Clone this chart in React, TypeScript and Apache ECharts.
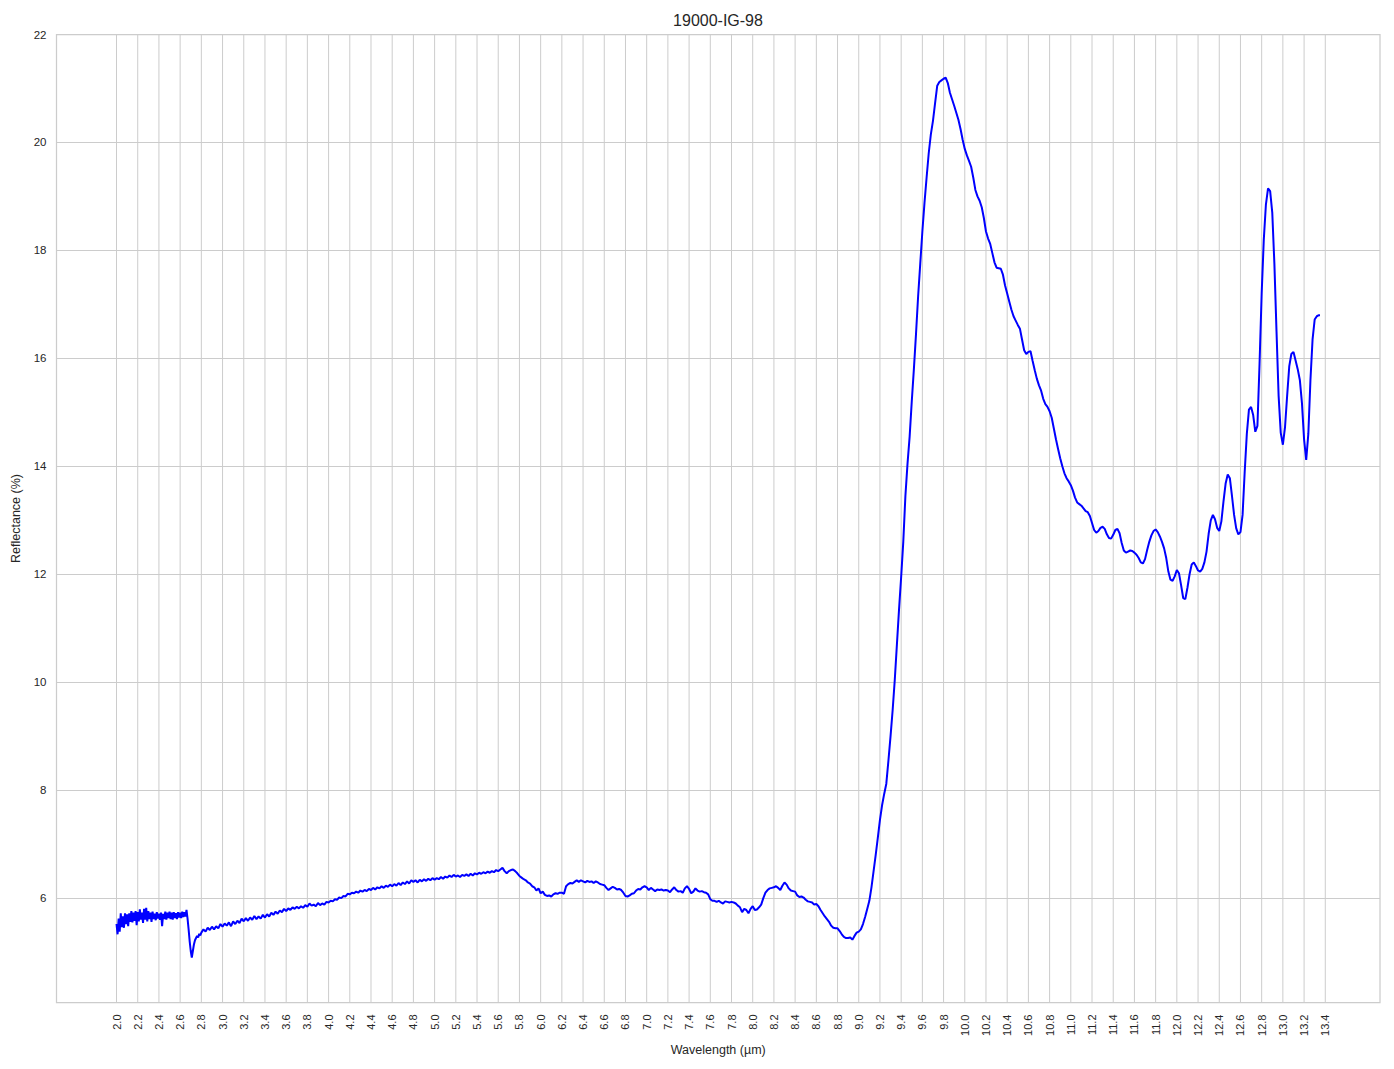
import React, { useEffect, useRef } from "react";
import * as echarts from "echarts";

// ---- Data (wavelength µm, reflectance %) ----
const noisySegment: [number, number][] = [
  [2.00,5.52],[2.01,5.33],[2.02,5.62],[2.03,5.38],[2.04,5.72],[2.05,5.46],[2.06,5.66],[2.07,5.45],[2.08,5.72],[2.09,5.52],
  [2.10,5.70],[2.11,5.48],[2.12,5.72],[2.13,5.56],[2.14,5.76],[2.15,5.55],[2.16,5.73],[2.17,5.58],[2.18,5.76],[2.19,5.50],
  [2.20,5.74],[2.21,5.57],[2.22,5.79],[2.23,5.60],[2.24,5.73],[2.25,5.54],[2.26,5.80],[2.27,5.60],[2.28,5.82],[2.29,5.57],
  [2.30,5.76],[2.31,5.61],[2.32,5.73],[2.33,5.56],[2.34,5.75],[2.35,5.61],[2.36,5.71],[2.37,5.59],[2.38,5.74],[2.39,5.62],
  [2.40,5.71],[2.41,5.60],[2.42,5.73],[2.43,5.48],[2.44,5.71],[2.45,5.61],[2.46,5.75],[2.47,5.60],[2.48,5.73],[2.49,5.63],
  [2.50,5.75],[2.51,5.61],[2.52,5.73],[2.53,5.60],[2.54,5.74],[2.55,5.63],[2.56,5.72],[2.57,5.61],[2.58,5.74],[2.59,5.64],
  [2.60,5.73],[2.61,5.63],[2.62,5.75],[2.63,5.65],[2.64,5.74],[2.65,5.66],[2.66,5.78],[2.67,5.62],[2.68,5.42],[2.69,5.20],
  [2.70,5.02],[2.71,4.90],[2.72,5.02],[2.73,5.14],[2.74,5.22],[2.75,5.26],[2.76,5.30],[2.77,5.27],[2.78,5.34],[2.79,5.31],
];

const risingSegment: [number, number][] = [
  [2.80,5.36],[2.82,5.42],[2.84,5.38],[2.86,5.45],[2.88,5.41],[2.90,5.47],[2.92,5.42],[2.94,5.48],[2.96,5.44],[2.98,5.52],
  [3.00,5.47],[3.02,5.53],[3.04,5.49],[3.06,5.55],[3.08,5.48],[3.10,5.57],[3.12,5.52],[3.14,5.58],[3.16,5.54],[3.18,5.62],
  [3.20,5.57],[3.22,5.63],[3.24,5.58],[3.26,5.64],[3.28,5.60],[3.30,5.67],[3.32,5.61],[3.34,5.66],[3.36,5.62],[3.38,5.69],
  [3.40,5.64],[3.42,5.70],[3.44,5.66],[3.46,5.73],[3.48,5.69],[3.50,5.75],[3.52,5.71],[3.54,5.77],[3.56,5.74],[3.58,5.80],
  [3.60,5.76],[3.62,5.81],[3.64,5.78],[3.66,5.83],[3.68,5.80],[3.70,5.84],[3.72,5.81],[3.74,5.85],[3.76,5.82],[3.78,5.87],
  [3.80,5.84],[3.82,5.90],[3.84,5.86],[3.86,5.88],[3.88,5.85],[3.90,5.91],[3.92,5.87],[3.94,5.90],[3.96,5.88],[3.98,5.93],
  [4.00,5.92],[4.02,5.95],[4.04,5.94],[4.06,5.98],[4.08,5.97],[4.10,6.01],[4.12,6.00],[4.14,6.04],[4.16,6.03],[4.18,6.08],
  [4.20,6.07],[4.22,6.10],[4.24,6.09],[4.26,6.12],[4.28,6.10],[4.30,6.14],[4.32,6.12],[4.34,6.15],[4.36,6.13],[4.38,6.17],
  [4.40,6.15],[4.42,6.19],[4.44,6.16],[4.46,6.20],[4.48,6.18],[4.50,6.22],[4.52,6.19],[4.54,6.23],[4.56,6.21],[4.58,6.25],
  [4.60,6.22],[4.62,6.26],[4.64,6.23],[4.66,6.28],[4.68,6.24],[4.70,6.29],[4.72,6.26],[4.74,6.31],[4.76,6.27],[4.78,6.33],
  [4.80,6.30],[4.82,6.33],[4.84,6.29],[4.86,6.34],[4.88,6.31],[4.90,6.35],[4.92,6.32],[4.94,6.36],[4.96,6.33],[4.98,6.37],
  [5.00,6.34],[5.02,6.37],[5.04,6.35],[5.06,6.39],[5.08,6.36],[5.10,6.40],[5.12,6.38],[5.14,6.42],[5.16,6.39],[5.18,6.43],
  [5.20,6.40],[5.22,6.42],[5.24,6.39],[5.26,6.43],[5.28,6.41],[5.30,6.44],[5.32,6.41],[5.34,6.45],[5.36,6.42],[5.38,6.46],
  [5.40,6.44],[5.42,6.47],[5.44,6.45],[5.46,6.48],[5.48,6.46],[5.50,6.49],[5.52,6.47],[5.54,6.50],[5.56,6.48],[5.58,6.52],
  [5.60,6.50],[5.62,6.53],[5.64,6.56],[5.66,6.50],[5.68,6.46],[5.70,6.50],[5.72,6.52],[5.74,6.53],[5.76,6.50],[5.78,6.46],
];

const plateauSegment: [number, number][] = [
  [5.80,6.41],[5.82,6.38],[5.84,6.35],[5.86,6.33],[5.88,6.29],[5.90,6.27],[5.92,6.22],[5.94,6.20],[5.96,6.14],[5.98,6.18],
  [6.00,6.09],[6.02,6.12],[6.04,6.06],[6.06,6.04],[6.08,6.05],[6.10,6.03],[6.12,6.07],[6.14,6.09],[6.16,6.08],[6.18,6.10],
  [6.20,6.10],[6.22,6.08],[6.24,6.22],[6.26,6.26],[6.28,6.28],[6.30,6.27],[6.32,6.30],[6.34,6.33],[6.36,6.30],[6.38,6.33],
  [6.40,6.31],[6.42,6.29],[6.44,6.32],[6.46,6.30],[6.48,6.31],[6.50,6.28],[6.52,6.31],[6.54,6.29],[6.56,6.26],[6.58,6.25],
  [6.60,6.24],[6.62,6.19],[6.64,6.15],[6.66,6.18],[6.68,6.21],[6.70,6.19],[6.72,6.16],[6.74,6.17],[6.76,6.15],[6.78,6.10],
  [6.80,6.04],[6.82,6.03],[6.84,6.05],[6.86,6.08],[6.88,6.09],[6.90,6.14],[6.92,6.17],[6.94,6.16],[6.96,6.20],[6.98,6.22],
  [7.00,6.20],[7.02,6.15],[7.04,6.19],[7.06,6.16],[7.08,6.13],[7.10,6.16],[7.12,6.15],[7.14,6.16],[7.16,6.14],[7.18,6.15],
  [7.20,6.14],[7.22,6.11],[7.24,6.16],[7.26,6.20],[7.28,6.15],[7.30,6.12],[7.32,6.13],[7.34,6.10],[7.36,6.18],[7.38,6.22],
  [7.40,6.17],[7.42,6.09],[7.44,6.12],[7.46,6.18],[7.48,6.14],[7.50,6.12],[7.52,6.13],[7.54,6.11],[7.56,6.10],[7.58,6.07],
  [7.60,5.98],[7.62,5.95],[7.64,5.95],[7.66,5.93],[7.68,5.95],[7.70,5.92],[7.72,5.90],[7.74,5.94],[7.76,5.93],[7.78,5.92],
  [7.80,5.93],[7.82,5.92],[7.84,5.90],[7.86,5.86],[7.88,5.83],[7.90,5.74],[7.92,5.80],[7.94,5.78],[7.96,5.72],[7.98,5.80],
  [8.00,5.85],[8.02,5.78],[8.04,5.79],[8.06,5.83],[8.08,5.88],[8.10,6.00],[8.12,6.10],[8.14,6.15],[8.16,6.18],[8.18,6.19],
  [8.20,6.20],[8.22,6.22],[8.24,6.19],[8.26,6.15],[8.28,6.23],[8.30,6.29],[8.32,6.25],[8.34,6.18],[8.36,6.14],[8.38,6.13],
  [8.40,6.12],[8.42,6.05],[8.44,6.02],[8.46,6.03],[8.48,6.01],[8.50,5.97],[8.52,5.94],[8.54,5.93],[8.56,5.92],[8.58,5.88],
  [8.60,5.89],[8.62,5.85],[8.64,5.78],[8.66,5.72],[8.68,5.66],[8.70,5.61],[8.72,5.56],[8.74,5.49],[8.76,5.45],[8.78,5.44],
  [8.80,5.44],[8.82,5.39],[8.84,5.33],[8.86,5.28],[8.88,5.26],[8.90,5.26],[8.92,5.27],[8.94,5.23],[8.96,5.30],[8.98,5.36],
];

const bandSegment: [number, number][] = [
  [9.00,5.38],[9.02,5.42],[9.04,5.52],[9.06,5.65],[9.08,5.80],[9.10,5.95],[9.12,6.20],[9.14,6.50],[9.16,6.80],[9.18,7.12],
  [9.20,7.45],[9.22,7.72],[9.24,7.93],[9.26,8.12],[9.28,8.55],[9.30,9.00],[9.32,9.49],[9.34,10.05],[9.36,10.70],[9.38,11.35],
  [9.40,11.95],[9.42,12.60],[9.44,13.45],[9.46,14.05],[9.48,14.55],[9.50,15.20],[9.52,15.80],[9.54,16.45],[9.56,17.15],[9.58,17.75],
  [9.60,18.35],[9.62,18.88],[9.64,19.35],[9.66,19.80],[9.68,20.15],[9.70,20.40],[9.72,20.73],[9.74,21.05],[9.76,21.12],[9.78,21.15],
  [9.80,21.18],[9.82,21.20],[9.84,21.10],[9.86,20.92],[9.88,20.80],[9.90,20.68],[9.92,20.55],[9.94,20.42],[9.96,20.25],[9.98,20.05],
  [10.00,19.88],[10.02,19.76],[10.04,19.66],[10.06,19.55],[10.08,19.35],[10.10,19.12],[10.12,19.00],[10.14,18.92],[10.16,18.80],[10.18,18.60],
  [10.20,18.35],[10.22,18.22],[10.24,18.12],[10.26,17.95],[10.28,17.78],[10.30,17.68],[10.32,17.67],[10.34,17.66],[10.36,17.55],[10.38,17.35],
  [10.40,17.20],[10.42,17.05],[10.44,16.90],[10.46,16.78],[10.48,16.70],[10.50,16.62],[10.52,16.55],[10.54,16.35],[10.56,16.15],[10.58,16.08],
  [10.60,16.12],[10.62,16.13],[10.64,15.95],[10.66,15.78],[10.68,15.62],[10.70,15.50],[10.72,15.40],[10.74,15.25],[10.76,15.15],[10.78,15.10],
  [10.80,15.02],[10.82,14.90],[10.84,14.70],[10.86,14.50],[10.88,14.32],[10.90,14.15],[10.92,14.00],[10.94,13.87],[10.96,13.78],[10.98,13.72],
];

const tailSegment: [number, number][] = [
  [11.00,13.65],[11.02,13.55],[11.04,13.42],[11.06,13.33],[11.08,13.30],[11.10,13.27],[11.12,13.22],[11.14,13.17],[11.16,13.15],[11.18,13.08],
  [11.20,12.95],[11.22,12.82],[11.24,12.77],[11.26,12.80],[11.28,12.86],[11.30,12.88],[11.32,12.84],[11.34,12.74],[11.36,12.67],[11.38,12.66],
  [11.40,12.73],[11.42,12.82],[11.44,12.84],[11.46,12.76],[11.48,12.58],[11.50,12.44],[11.52,12.40],[11.54,12.42],[11.56,12.44],[11.58,12.43],
  [11.60,12.40],[11.62,12.36],[11.64,12.30],[11.66,12.22],[11.68,12.20],[11.70,12.28],[11.72,12.45],[11.74,12.60],[11.76,12.72],[11.78,12.80],
  [11.80,12.83],[11.82,12.78],[11.84,12.70],[11.86,12.60],[11.88,12.48],[11.90,12.30],[11.92,12.05],[11.94,11.90],[11.96,11.88],[11.98,11.96],
  [12.00,12.08],[12.02,12.02],[12.04,11.80],[12.06,11.56],[12.08,11.54],[12.10,11.75],[12.12,12.00],[12.14,12.18],[12.16,12.22],[12.18,12.15],
  [12.20,12.07],[12.22,12.05],[12.24,12.10],[12.26,12.22],[12.28,12.42],[12.30,12.75],[12.32,13.00],[12.34,13.10],[12.36,13.02],[12.38,12.86],
  [12.40,12.80],[12.42,12.98],[12.44,13.35],[12.46,13.68],[12.48,13.85],[12.50,13.78],[12.52,13.45],[12.54,13.10],[12.56,12.85],[12.58,12.74],
  [12.60,12.78],[12.62,13.10],[12.64,13.90],[12.66,14.60],[12.68,15.05],[12.70,15.10],[12.72,14.95],[12.74,14.64],[12.76,14.75],[12.78,15.90],
  [12.80,17.20],[12.82,18.20],[12.84,18.85],[12.86,19.15],[12.88,19.10],[12.90,18.70],[12.92,17.75],[12.94,16.50],[12.96,15.30],[12.98,14.62],
  [13.00,14.40],[13.02,14.72],[13.04,15.30],[13.06,15.85],[13.08,16.08],[13.10,16.12],[13.12,15.96],[13.14,15.80],[13.16,15.60],[13.18,15.17],
  [13.20,14.50],[13.22,14.12],[13.24,14.60],[13.26,15.60],[13.28,16.35],[13.30,16.72],[13.32,16.78],[13.34,16.80],[13.35,16.80],
];

const xTicks = [
  2.0, 2.2, 2.4, 2.6, 2.8, 3.0, 3.2, 3.4, 3.6, 3.8, 4.0, 4.2, 4.4, 4.6, 4.8, 5.0, 5.2, 5.4, 5.6, 5.8,
  6.0, 6.2, 6.4, 6.6, 6.8, 7.0, 7.2, 7.4, 7.6, 7.8, 8.0, 8.2, 8.4, 8.6, 8.8, 9.0, 9.2, 9.4, 9.6, 9.8,
  10.0, 10.2, 10.4, 10.6, 10.8, 11.0, 11.2, 11.4, 11.6, 11.8, 12.0, 12.2, 12.4, 12.6, 12.8, 13.0, 13.2, 13.4,
];

const TITLE = "19000-IG-98";
const X_NAME = "Wavelength (µm)";
const Y_NAME = "Reflectance (%)";

const FONT = "'Liberation Sans', Arial, sans-serif";
const TEXT = "#262626";
const GRID = "#cccccc";

export default function App() {
  const ref = useRef<HTMLDivElement>(null);

  useEffect(() => {
    if (!ref.current) return;
    const chart = echarts.init(ref.current, undefined, { renderer: "svg" });
    const spectrum = [
      ...noisySegment,
      ...risingSegment,
      ...plateauSegment,
      ...bandSegment,
      ...tailSegment,
    ];
    const xMin = xTicks[0];
    const xMax = xTicks[xTicks.length - 1];
    chart.setOption({
      animation: false,
      backgroundColor: "#ffffff",
      textStyle: { fontFamily: FONT, color: TEXT },
      title: {
        text: TITLE,
        left: 713,
        top: 7,
        textAlign: "center",
        textStyle: { fontFamily: FONT, fontSize: 16, fontWeight: "normal", color: TEXT },
      },
      grid: {
        left: 56.5,
        top: 34.5,
        right: 14,
        bottom: 66.5,
        show: true,
        borderColor: GRID,
        borderWidth: 1.25,
        backgroundColor: "#ffffff",
      },
      xAxis: {
        type: "value",
        min: 1.434,
        max: 13.916,
        splitNumber: 62,
        minInterval: 0.2,
        maxInterval: 0.2,
        name: X_NAME,
        nameLocation: "middle",
        nameGap: 39,
        nameTextStyle: { fontFamily: FONT, fontSize: 12.5, color: TEXT },
        axisLine: { show: false },
        axisTick: { show: false },
        splitLine: { show: false },
        axisLabel: {
          rotate: 90,
          margin: 12,
          fontSize: 11,
          fontFamily: FONT,
          color: TEXT,
          formatter: (v: number) =>
            v >= xMin - 1e-6 && v <= xMax + 1e-6 ? v.toFixed(1) : "",
        },
      },
      yAxis: {
        type: "value",
        min: 4.066,
        max: 22,
        splitNumber: 9,
        minInterval: 2,
        maxInterval: 2,
        name: Y_NAME,
        nameLocation: "middle",
        nameGap: 31,
        nameTextStyle: { fontFamily: FONT, fontSize: 12.5, color: TEXT },
        axisLine: { show: false },
        axisTick: { show: false },
        splitLine: { show: true, lineStyle: { color: GRID, width: 1 } },
        axisLabel: {
          showMinLabel: false,
          margin: 10,
          fontSize: 11.5,
          fontFamily: FONT,
          color: TEXT,
          formatter: (v: number) => String(Math.round(v)),
        },
      },
      series: [
        {
          type: "custom",
          z: 1,
          silent: true,
          data: xTicks.map((t) => [t]),
          renderItem: (params: any, api: any) => {
            const p = api.coord([api.value(0), 10]);
            const cs = params.coordSys;
            return {
              type: "line",
              shape: { x1: p[0], y1: cs.y, x2: p[0], y2: cs.y + cs.height },
              style: { stroke: GRID, lineWidth: 1 },
            };
          },
        },
        {
          type: "line",
          z: 3,
          data: spectrum,
          showSymbol: false,
          symbol: "none",
          smooth: false,
          lineStyle: { color: "#0000ff", width: 2 },
          itemStyle: { color: "#0000ff" },
        },
      ],
    });
    return () => chart.dispose();
  }, []);

  return (
    <div
      ref={ref}
      style={{ position: "fixed", left: 0, top: 0, width: 1394, height: 1069, background: "#fff" }}
    />
  );
}
